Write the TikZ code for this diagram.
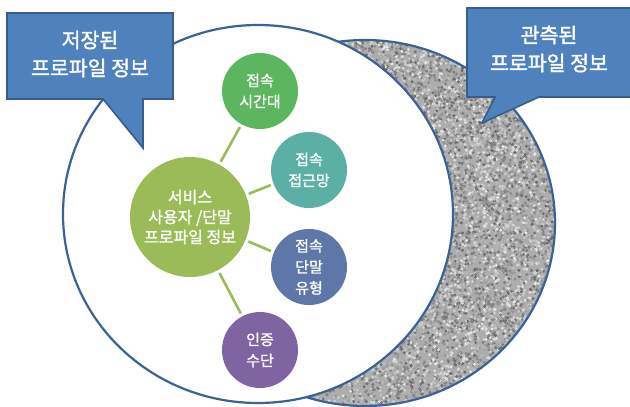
\documentclass[tikz,border=0pt]{standalone}
\usepackage{fontspec}
\newfontfamily\kr{Noto Sans CJK KR}[FakeBold=1.3]
\newfontfamily\krb{Noto Sans CJK KR}[FakeBold=1.8]
\definecolor{ringblue}{HTML}{3A6297}
\definecolor{calloutfill}{HTML}{4F81BD}
\definecolor{calloutline}{HTML}{385D8A}
\definecolor{cgreen}{HTML}{5CB660}
\definecolor{cteal}{HTML}{5BAFA5}
\definecolor{cblue}{HTML}{5E76A8}
\definecolor{cpurple}{HTML}{8064A2}
\definecolor{colive}{HTML}{9BBB59}
\definecolor{grayfill}{HTML}{ADADAD}
\begin{document}
\begin{tikzpicture}[x=1pt,y=-1pt,
  ring/.style={draw=ringblue, line width=2.2pt},
  bubble/.style={fill=calloutfill, draw=calloutline, line width=1.6pt, line join=miter},
  btext/.style={text=white, font=\krb\fontsize{20.5}{28}\selectfont, align=center, inner sep=0pt},
  smallc/.style={circle, minimum size=76pt, inner sep=0pt, text=white, align=center, font=\kr\fontsize{15}{21}\selectfont},
  bigc/.style={circle, minimum size=120pt, inner sep=0pt, text=white, align=center, fill=colive, font=\kr\fontsize{16}{20}\selectfont},
  link/.style={draw=colive, line width=2.6pt, shorten <=3pt, shorten >=3pt}]
\useasboundingbox (0,0) rectangle (630,407);
% observed (gray) profile circle
\fill[grayfill] (365,223) ellipse [x radius=190pt, y radius=183pt];
\begin{scope}
  \clip (365,223) ellipse [x radius=190pt, y radius=183pt];
  \pgfmathsetseed{7}
  \foreach \i in {1,...,5500}{
    \pgfmathsetmacro\yy{40+366*rnd}
    \pgfmathsetmacro\ta{(\yy-214)/189}
    \pgfmathsetmacro\tb{(\yy-223)/183}
    \pgfmathsetmacro\xw{258+195*sqrt(max(0,1-(\ta)*(\ta)))}
    \pgfmathsetmacro\xg{365+190*sqrt(max(0,1-(\tb)*(\tb)))}
    \pgfmathsetmacro\xx{\xw-3+(\xg-\xw+6)*rnd}
    \pgfmathsetmacro\gg{8+52*rnd}
    \fill[black!\gg] (\xx,\yy) circle[radius=1.6pt];
  }
\end{scope}
\draw[ring] (365,223) ellipse [x radius=190pt, y radius=183pt];
% stored profile (white) circle
\filldraw[fill=white, ring] (258,214) ellipse [x radius=195pt, y radius=189pt];
% callouts
\filldraw[bubble] (7,13) -- (173,13) -- (173,99) -- (143,99) -- (143,148) -- (103,99) -- (7,99) -- cycle;
\node[btext] (lt) at (90,54) {저장된\\프로파일 정보};
\filldraw[bubble] (467,8) -- (645,8) -- (645,97) -- (539,97) -- (482,123) -- (495,97) -- (467,97) -- cycle;
\node[btext] (rt) at (549,49) {관측된\\프로파일 정보};
% nodes
\node[bigc] (c) at (190,217) {서비스\\사용자 /단말\\프로파일 정보};
\node[smallc, fill=cgreen] (t) at (260,91) {접속\\시간대};
\node[smallc, fill=cteal] (n) at (309,170) {접속\\접근망};
\node[smallc, fill=cblue] (d) at (309,267) {접속\\단말\\유형};
\node[smallc, fill=cpurple] (a) at (260,350) {인증\\수단};
\draw[link] (c) -- (t);
\draw[link] (c) -- (n);
\draw[link] (c) -- (d);
\draw[link] (c) -- (a);
\end{tikzpicture}
\end{document}
